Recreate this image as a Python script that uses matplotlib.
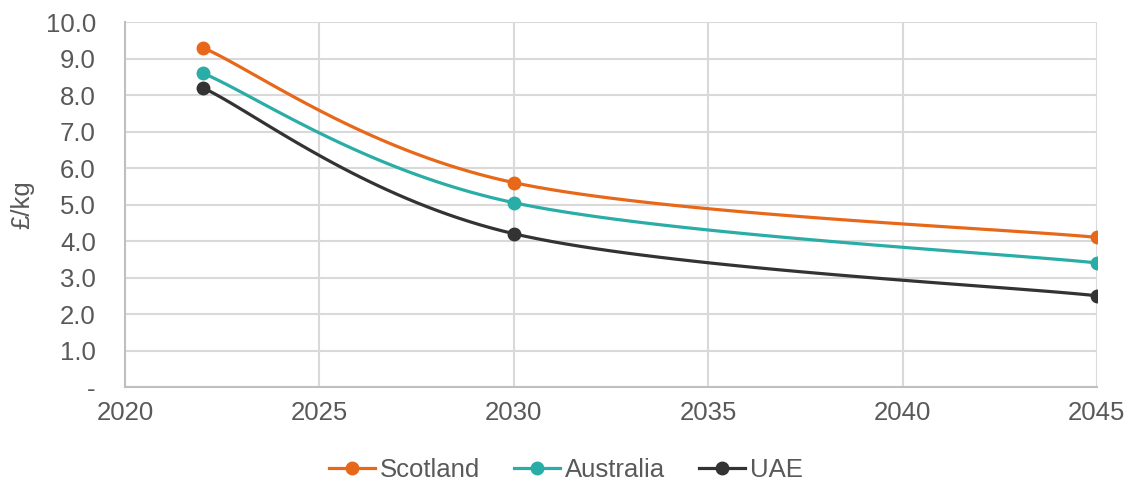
import numpy as np
import matplotlib.pyplot as plt

plt.rcParams['font.family'] = ['Liberation Sans', 'DejaVu Sans']

years = [2022, 2030, 2045]
scotland = [9.3, 5.6, 4.1]
australia = [8.6, 5.05, 3.4]
uae = [8.2, 4.2, 2.5]

series = [
    ('Scotland', scotland, '#E8681A'),
    ('Australia', australia, '#2AADA6'),
    ('UAE', uae, '#333333'),
]


def smooth(ax, xs, ys, n=40):
    # spreadsheet-style smoothed line: cubic bezier through the points,
    # control points taken from neighbours (tension 1/6) in screen space
    pts = ax.transData.transform(np.column_stack([xs, ys]))
    out = [pts[0]]
    for i in range(len(pts) - 1):
        p0 = pts[max(i - 1, 0)]
        p1 = pts[i]
        p2 = pts[i + 1]
        p3 = pts[min(i + 2, len(pts) - 1)]
        c1 = p1 + (p2 - p0) / 6
        c2 = p2 - (p3 - p1) / 6
        t = np.linspace(0, 1, n)[1:, None]
        seg = ((1 - t) ** 3 * p1 + 3 * (1 - t) ** 2 * t * c1
               + 3 * (1 - t) * t ** 2 * c2 + t ** 3 * p2)
        out.extend(seg)
    data = ax.transData.inverted().transform(np.array(out))
    return data[:, 0], data[:, 1]


fig = plt.figure(figsize=(11.32, 4.86), dpi=100)
ax = fig.add_axes([0.1104, 0.2037, 0.8586, 0.751])
ax.set_xlim(2020, 2045)
ax.set_ylim(0, 10)

for name, vals, col in series:
    sx, sy = smooth(ax, years, vals)
    ax.plot(sx, sy, color=col, lw=2.3, solid_capstyle='round', zorder=3)
    ax.plot(years, vals, 'o', color=col, ms=9, zorder=4)
    ax.plot([], [], '-o', color=col, lw=2.3, ms=9, label=name)

ax.set_xticks(range(2020, 2046, 5))
ax.set_yticks(np.arange(0, 10.1, 1))
ax.set_yticklabels(['-'] + [f'{v:.1f}' for v in np.arange(1, 10.1, 1)])
ax.grid(True, color='#D9D9D9', lw=1.5)
ax.set_axisbelow(True)
for s in ['top', 'right']:
    ax.spines[s].set_visible(False)
for s in ['left', 'bottom']:
    ax.spines[s].set_color('#BFBFBF')
    ax.spines[s].set_linewidth(1.5)
ax.tick_params(length=0, labelsize=18.5, labelcolor='#595959')
ax.tick_params(axis='x', pad=10)
ax.tick_params(axis='y', pad=21)
ax.set_ylabel('£/kg', fontsize=18.5, color='#595959', labelpad=8)

fig.legend(*ax.get_legend_handles_labels(), loc='center',
           bbox_to_anchor=(0.5, 0.033), ncol=3, frameon=False,
           fontsize=18.5, labelcolor='#595959', handlelength=1.8,
           handletextpad=0.2, columnspacing=1.3, borderpad=0)

fig.savefig('out.png', dpi=100)
